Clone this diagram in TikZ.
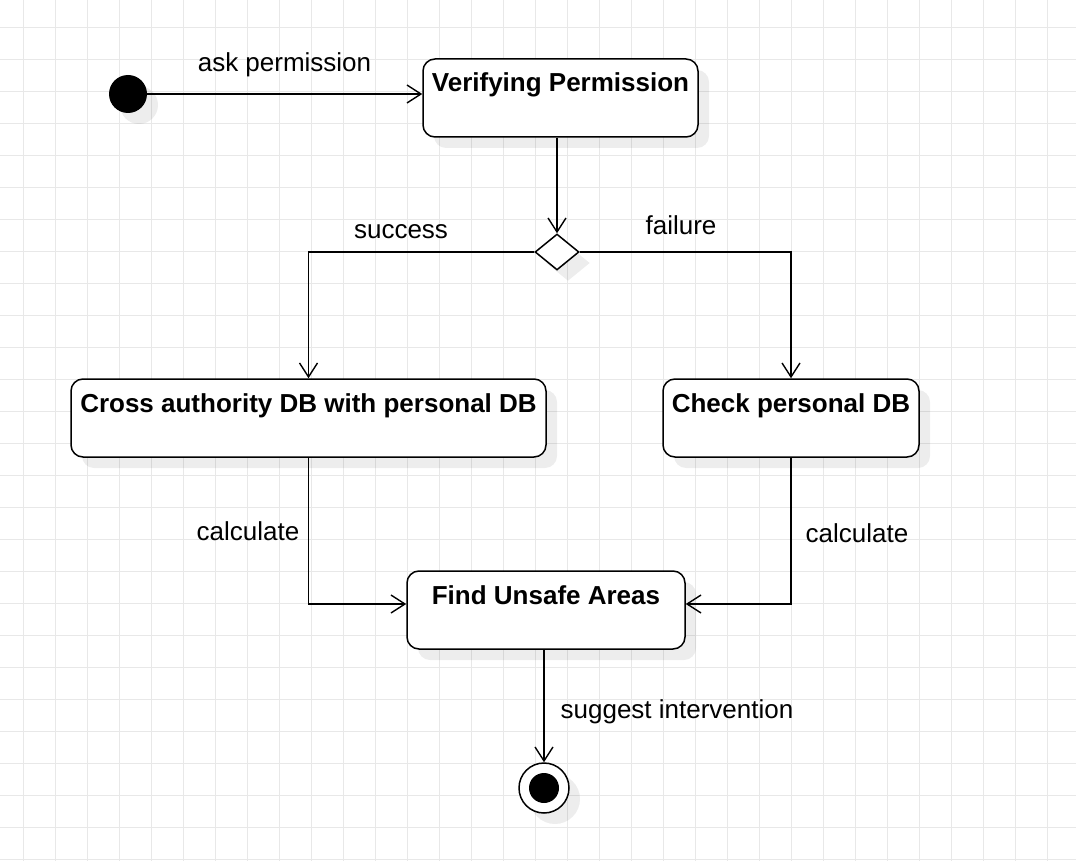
\documentclass[tikz,border=0pt]{standalone}
\usepackage{fontspec}
\setmainfont{Liberation Sans}
\usetikzlibrary{arrows.meta,shadows,shapes.geometric}

\begin{document}
\begin{tikzpicture}[
  x=1pt, y=-1pt,
  shade/.style={drop shadow={shadow xshift=11pt, shadow yshift=-11pt,
                fill=black, opacity=0.07}},
  state/.style={draw, rounded corners=12pt, line width=1.5pt, fill=white, shade,
                font=\fontsize{26}{30}\selectfont\bfseries, minimum height=78pt,
                inner ysep=0pt, text height=33pt, text depth=45pt},
  lbl/.style={font=\fontsize{26}{30}\selectfont, anchor=base, inner sep=0pt},
  arr/.style={-{Straight Barb[length=14pt,width=18pt]}, line width=1.4pt}
]
\useasboundingbox (0,0) rectangle (1076,861);
\fill[white] (0,0) rectangle (1076,861);
% grid
\foreach \gx in {23,55,...,1071} \draw[black!9, line width=0.8pt] (\gx,0) -- (\gx,861);
\foreach \gy in {27,59,...,859} \draw[black!9, line width=0.8pt] (0,\gy) -- (1076,\gy);

% states
\node[circle, fill=black, minimum size=38pt, inner sep=0pt, shade] (start) at (128,94) {};
\node[state, minimum width=275pt] (verify) at (560.5,98) {Verifying Permission};
\node[diamond, draw, fill=white, line width=1.5pt, minimum width=44pt, minimum height=36pt,
      inner sep=0pt, shade] (dec) at (557,252) {};
\node[state, minimum width=475pt] (cross) at (308.5,418) {Cross authority DB with personal DB};
\node[state, minimum width=256pt] (check) at (791,418) {Check personal DB};
\node[state, minimum width=278pt] (find) at (546,610) {Find Unsafe Areas};
\node[circle, draw, fill=white, line width=1.5pt, minimum size=50pt, inner sep=0pt, shade] (end) at (544,788) {};
\node[circle, fill=black, minimum size=30pt, inner sep=0pt] (endin) at (end) {};

% transitions
\draw[arr] (start.east) -- (verify.west |- start.east);
\draw[arr] (verify.south -| dec.north) -- (dec.north);
\draw[arr] (dec.west) -| (cross.north);
\draw[arr] (dec.east) -| (check.north);
\draw[arr] (cross.south) |- ([yshift=6pt]find.west);
\draw[arr] (check.south) |- ([yshift=6pt]find.east);
\draw[arr] (find.south -| end.north) -- (end.north);

% labels
\node[lbl] (askl) at (284.5,72) {ask permission};
\node[lbl] (succl) at (401,238) {success};
\node[lbl] (faill) at (681,235) {failure};
\node[lbl] (calcl) at (248,540) {calculate};
\node[lbl] (calcr) at (857,542) {calculate};
\node[lbl] (suggl) at (677,718) {suggest intervention};
\end{tikzpicture}
\end{document}
